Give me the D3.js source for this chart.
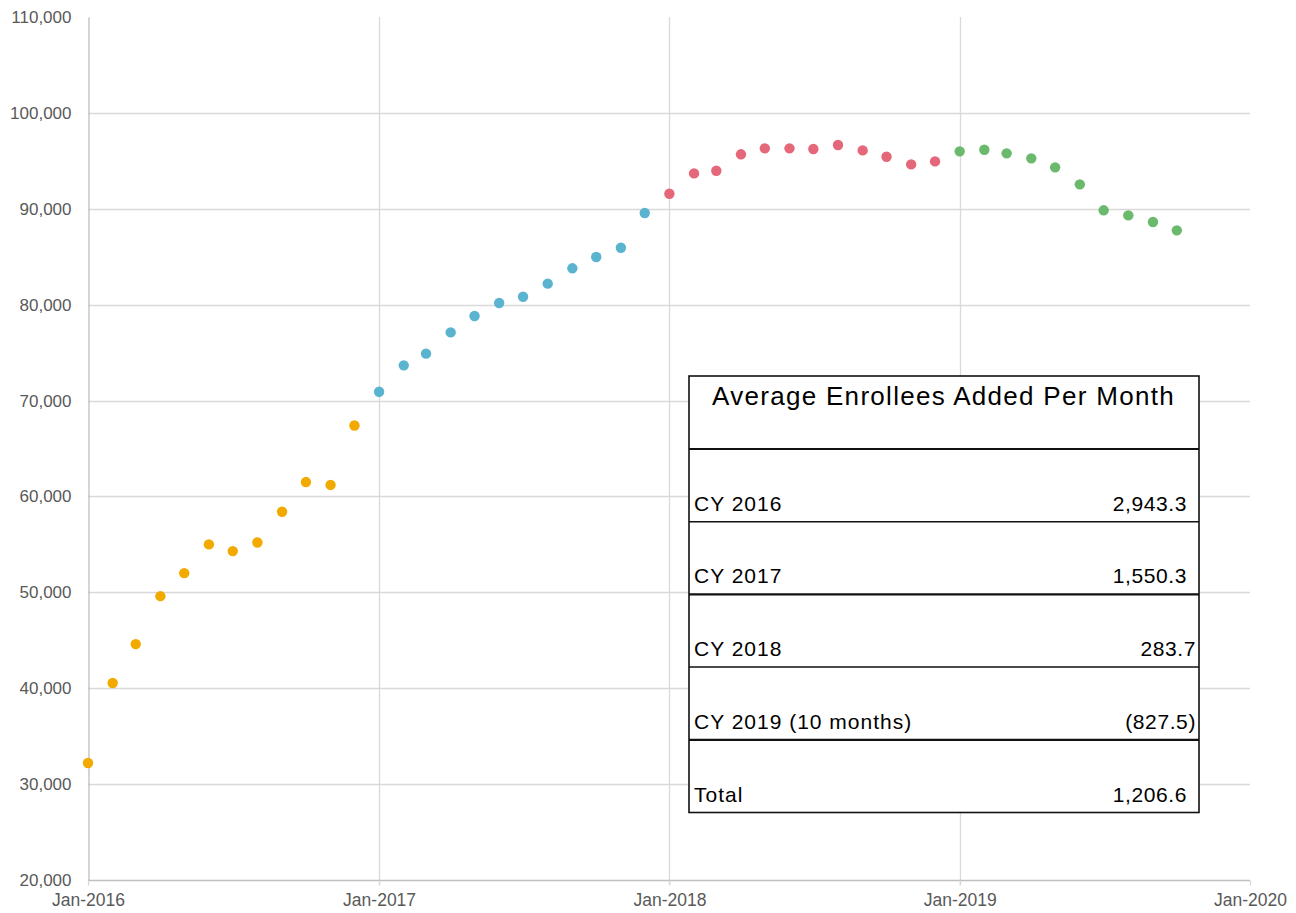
<!DOCTYPE html>
<html>
<head>
<meta charset="utf-8">
<script src="https://cdn.jsdelivr.net/npm/d3@7/dist/d3.min.js"></script>
<style>
  html, body { margin: 0; padding: 0; background: #fff; }
  svg { display: block; }
</style>
</head>
<body>
<svg id="chart" width="1296" height="913"></svg>
<script>
// ---- Data ----
const seriesYears = [2016, 2017, 2018, 2019];
const enrollees2016 = [32200, 40550, 44600, 49600, 52000, 55000, 54300, 55200, 58400, 61500, 61200, 67400];
const enrollees2017 = [70920, 73670, 74890, 77110, 78820, 80170, 80830, 82190, 83790, 84970, 85940, 89560];
const enrollees2018 = [91570, 93690, 93970, 95680, 96300, 96300, 96230, 96650, 96090, 95430, 94630, 94940];
const enrollees2019 = [95990, 96160, 95780, 95260, 94320, 92550, 89840, 89310, 88620, 87750];
const seriesColors = ["#F2AA00", "#5AB4D0", "#E4677A", "#6AB96C"];

const yTicks = [20000, 30000, 40000, 50000, 60000, 70000, 80000, 90000, 100000, 110000];
const xTickLabels = ["Jan-2016", "Jan-2017", "Jan-2018", "Jan-2019", "Jan-2020"];

const tableTitle = "Average Enrollees Added Per Month";
const tableLabels = ["CY 2016", "CY 2017", "CY 2018", "CY 2019 (10 months)", "Total"];
const tableValues = ["2,943.3", "1,550.3", "283.7", "(827.5)", "1,206.6"];

// ---- Layout ----
const svg = d3.select("#chart");
const plotL = 88, plotR = 1250, plotT = 17, plotB = 880;

const parseMonth = d3.timeParse("%b-%Y");
const x = d3.scaleTime()
  .domain([new Date(2016, 0, 1), new Date(2020, 0, 1)])
  .range([plotL, plotR]);
const y = d3.scaleLinear().domain([20000, 110000]).range([plotB, plotT]);

const fontFam = "'Liberation Sans', Arial, sans-serif";

// horizontal gridlines (not at top)
svg.append("g")
  .selectAll("line")
  .data(yTicks.filter(t => t !== 20000 && t !== 110000))
  .join("line")
  .attr("x1", plotL).attr("x2", plotR)
  .attr("y1", d => Math.round(y(d)) + 0.5).attr("y2", d => Math.round(y(d)) + 0.5)
  .attr("stroke", "#d9d9d9").attr("stroke-width", 1.3);

// vertical gridlines at years (interior)
const xTickDates = xTickLabels.map(parseMonth);
svg.append("g")
  .selectAll("line")
  .data(xTickDates.slice(1, -1))
  .join("line")
  .attr("x1", d => Math.round(x(d)) + 0.5).attr("x2", d => Math.round(x(d)) + 0.5)
  .attr("y1", plotT).attr("y2", plotB + 5)
  .attr("stroke", "#d9d9d9").attr("stroke-width", 1.3);

// Y axis
const yAxis = d3.axisLeft(y).tickValues(yTicks).tickSize(0).tickPadding(17)
  .tickFormat(d3.format(","));
const yg = svg.append("g").attr("transform", `translate(${plotL + 0.5},0)`).call(yAxis);
yg.select(".domain").attr("stroke", "#bfbfbf").attr("stroke-width", 1.3);
yg.selectAll("text").attr("fill", "#595959").style("font-family", fontFam).style("font-size", "17px");

// X axis
const xAxis = d3.axisBottom(x).tickValues(xTickDates).tickSize(5).tickPadding(8)
  .tickFormat(d3.timeFormat("%b-%Y"));
const xg = svg.append("g").attr("transform", `translate(0,${plotB + 0.5})`).call(xAxis);
xg.select(".domain").attr("stroke", "#bfbfbf").attr("stroke-width", 1.3).attr("d", `M${plotL},0H${plotR}`);
xg.selectAll(".tick line").attr("stroke", "#d9d9d9").attr("stroke-width", 1.3);
xg.selectAll("text").attr("fill", "#595959").style("font-family", fontFam).style("font-size", "17.5px");

// ---- Points ----
const allSeries = [enrollees2016, enrollees2017, enrollees2018, enrollees2019];
allSeries.forEach((vals, si) => {
  const yr = seriesYears[si];
  svg.append("g")
    .selectAll("circle")
    .data(vals.map((v, i) => ({ date: new Date(yr, i, 1), value: v })))
    .join("circle")
    .attr("cx", d => x(d.date))
    .attr("cy", d => y(d.value))
    .attr("r", 5.2)
    .attr("fill", seriesColors[si]);
});

// ---- Table ----
const tX = 689, tW = 510, tY = 376;
const headerH = 73;
const rowH = 72.7;
const tbl = svg.append("g");
const rowTops = tableLabels.map((d, i) => tY + headerH + i * rowH);
const tBottom = tY + headerH + tableLabels.length * rowH;

tbl.append("rect").attr("x", tX).attr("y", tY).attr("width", tW).attr("height", tBottom - tY)
  .attr("fill", "#fff").attr("stroke", "#111").attr("stroke-width", 1.6);

tbl.append("text")
  .attr("x", tX + tW / 2 - 0.5).attr("y", tY + 29)
  .attr("text-anchor", "middle")
  .style("font-family", fontFam).style("font-size", "26px").style("letter-spacing", "1.3px")
  .attr("fill", "#000")
  .text(tableTitle);

const thickLines = [0, 2, 4];
tbl.selectAll("line.sep")
  .data(rowTops)
  .join("line")
  .attr("class", "sep")
  .attr("x1", tX).attr("x2", tX + tW)
  .attr("y1", d => d).attr("y2", d => d)
  .attr("stroke", "#111")
  .attr("stroke-width", (d, i) => thickLines.includes(i) ? 2.2 : 1.5);

const valueRightPad = [12, 12, 3, 3, 12];
tbl.selectAll("text.lab")
  .data(tableLabels)
  .join("text")
  .attr("class", "lab")
  .attr("x", tX + 5)
  .attr("y", (d, i) => rowTops[i] + rowH - 11)
  .style("font-family", fontFam).style("font-size", "21px").style("letter-spacing", "1px")
  .attr("fill", "#000")
  .text(d => d);

tbl.selectAll("text.val")
  .data(tableValues)
  .join("text")
  .attr("class", "val")
  .attr("x", (d, i) => tX + tW - valueRightPad[i])
  .attr("y", (d, i) => rowTops[i] + rowH - 11)
  .attr("text-anchor", "end")
  .style("font-family", fontFam).style("font-size", "21px").style("letter-spacing", "0.6px")
  .attr("fill", "#000")
  .text(d => d);
</script>
</body>
</html>
